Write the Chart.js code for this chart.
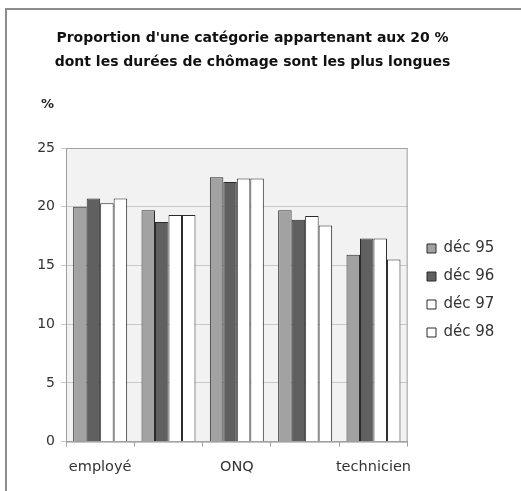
<!DOCTYPE html>
<html>
<head>
<meta charset="utf-8">
<script src="https://cdn.jsdelivr.net/npm/chart.js@4/dist/chart.umd.min.js"></script>
<style>
  html, body { margin: 0; padding: 0; background: #fff; }
  #wrap { position: relative; width: 521px; height: 491px; overflow: hidden; }
  #frame { position: absolute; left: 5px; top: 8px; width: 530px; height: 500px;
           border-top: 2px solid #8c8c8c; border-left: 2px solid #8c8c8c; }
  #unit { position: absolute; left: 41px; top: 96px; font: bold 13px "DejaVu Sans", sans-serif; color: #222; }
  canvas { position: absolute; left: 0; top: 0; }
</style>
</head>
<body>
<div id="wrap">
  <div id="frame"></div>
  <canvas id="chart" width="521" height="491"></canvas>
  <div id="unit">%</div>
</div>
<script>
const categories = ['employé', 'ouvrier qualifié', 'ONQ', 'profession intermédiaire', 'technicien'];
const shownLabels = ['employé', '', 'ONQ', '', 'technicien'];
const seriesNames = ['déc 95', 'déc 96', 'déc 97', 'déc 98'];
const dec95 = [20.0, 19.7, 22.5, 19.7, 15.9];
const dec96 = [20.7, 18.7, 22.1, 18.9, 17.3];
const dec97 = [20.3, 19.3, 22.4, 19.2, 17.3];
const dec98 = [20.7, 19.3, 22.4, 18.4, 15.5];
const yTicks = [0, 5, 10, 15, 20, 25];

const fills = ['#a2a2a2', '#606060', '#ffffff', '#ffffff'];
const font = 'DejaVu Sans';

// grey plot background + border, legend moved a bit off the plot
const plotBg = {
  id: 'plotBg',
  afterLayout(chart) {
    const lg = chart.legend;
    const w = lg.right - lg.left;
    lg.left = 414;
    lg.right = 414 + w;
    lg.top = 228;
  },
  beforeDraw(chart) {
    const a = chart.chartArea, c = chart.ctx;
    c.save();
    c.fillStyle = '#f2f2f2';
    c.fillRect(a.left, a.top, a.right - a.left, a.bottom - a.top);
    c.restore();
  },
  afterDatasetsDraw(chart) {
    const a = chart.chartArea, c = chart.ctx;
    c.save();
    c.strokeStyle = '#a0a0a0';
    c.lineWidth = 1;
    c.strokeRect(a.left + 0.5, a.top + 0.5, a.right - a.left - 1, a.bottom - a.top);
    c.restore();
  }
};

const ctx = document.getElementById('chart');
new Chart(ctx, {
  type: 'bar',
  data: {
    labels: categories,
    datasets: [dec95, dec96, dec97, dec98].map((d, i) => ({
      label: seriesNames[i],
      data: d,
      backgroundColor: fills[i],
      borderColor: '#2a2a2a',
      borderWidth: 1,
      categoryPercentage: 0.79,
      barPercentage: 1.0
    }))
  },
  options: {
    responsive: false,
    animation: false,
    layout: { padding: { left: 7, right: 23, top: 0, bottom: 3 } },
    plugins: {
      title: {
        display: true,
        text: ["Proportion d'une catégorie appartenant aux 20 %", 'dont les durées de chômage sont les plus longues'],
        color: '#111',
        font: { family: font, size: 14, weight: 'bold', lineHeight: 24 / 14 },
        padding: { top: 26, bottom: 74 }
      },
      legend: {
        position: 'right',
        align: 'start',
        labels: {
          boxWidth: 9,
          boxHeight: 9,
          padding: 13,
          color: '#333',
          font: { family: font, size: 15 }
        }
      },
      tooltip: { enabled: false }
    },
    scales: {
      x: {
        grid: { display: true, offset: true, drawOnChartArea: false, tickLength: 5, color: '#a0a0a0' },
        border: { color: '#a0a0a0' },
        ticks: {
          maxRotation: 0,
          autoSkip: false,
          padding: 12,
          color: '#333',
          font: { family: font, size: 14.5 },
          callback: (v, i) => shownLabels[i]
        }
      },
      y: {
        min: 0,
        max: 25,
        afterFit: (s) => { s.width = 59; },
        afterBuildTicks: (s) => { s.ticks = yTicks.map(v => ({ value: v })); },
        grid: { color: '#c8c8c8', tickLength: 5 },
        border: { color: '#a0a0a0' },
        ticks: { color: '#333', font: { family: font, size: 14 }, padding: 6 }
      }
    }
  },
  plugins: [plotBg]
});
</script>
</body>
</html>
